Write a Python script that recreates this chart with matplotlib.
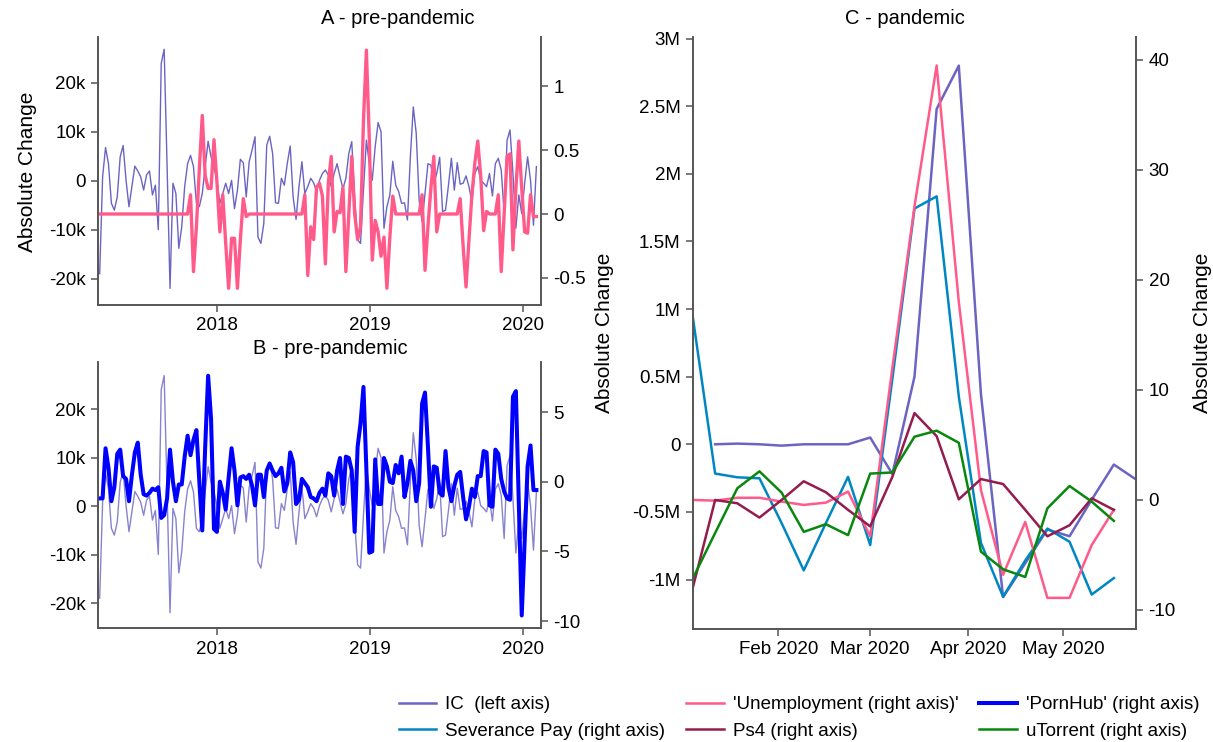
import numpy as np
import pandas as pd
import matplotlib
matplotlib.use("Agg")
import matplotlib.pyplot as plt

plt.rcParams['font.family'] = ['Liberation Sans', 'DejaVu Sans']
plt.rcParams['axes.unicode_minus'] = False

# ---- pre-pandemic weekly data (panels A and B) ----
pre_dates = pd.date_range('2017-03-26', periods=150, freq='7D')

# initial claims, absolute change (thousands)
ic_pre = [-19.0, 0.8, 6.8, 3.5, -4.6, -6.0, -3.3, 4.9, 7.2, 0.1,
          -5.3, -1.2, 3.0, 2.0, 0.8, -1.9, 1.2, 2.0, -2.9, -0.9,
          -10.0, 24.0, 26.9, 3.0, -22.0, -0.5, -2.6, -13.8, -9.4, -1.2,
          3.5, 5.2, 2.9, -4.6, -5.3, -2.6, 2.9, 8.1, 4.9, 2.9,
          0.1, -4.6, -2.6, -0.5, -2.6, 0.1, -5.7, -1.9, 4.4, 3.7,
          -3.3, 3.9, 6.3, 9.0, -11.5, -12.8, -8.7, 7.3, 9.1, 5.6,
          -4.5, -4.6, 0.5, -0.9, 3.5, 7.1, -3.3, -7.9, -1.2, 3.9,
          -2.6, -1.2, 0.5, -0.4, -2.2, 0.1, 1.5, 2.2, 1.2, -1.2,
          1.5, 3.5, 0.8, -1.6, 0.5, 5.6, 8.0, -3.3, -12.1, -12.8,
          -1.9, 8.3, 3.5, 0.1, 7.0, 11.9, 10.0, -9.7, -5.3, -2.9, 4.0,
          -0.9, -2.2, -4.6, -4.5, -8.0, 4.9, 15.1, 9.7, -4.0, -8.4,
          -2.6, 3.5, 3.2, -0.5, 1.5, 4.8, -6.3, -6.0, -0.9, 4.6,
          -1.9, 3.7, -0.7, -0.5, 1.0, -1.2, -4.3, 1.5, 2.9, 0.1,
          -0.5, -1.2, 1.5, -3.1, 3.5, 4.6, 2.2, -6.7, 8.3, 10.4,
          1.5, -9.7, -2.9, -6.7, -0.5, 4.9, 0.1, -9.1, 2.9]

unemp_pre = [0, 0, 0, 0, 0, 0, 0, 0, 0, 0,
             0, 0, 0, 0, 0, 0, 0, 0, 0, 0,
             0, 0, 0, 0, 0, 0, 0, 0, 0, 0,
             0, 0.15, -0.45, -0.1, 0.35, 0.77, 0.3, 0.2, 0.2, 0.58,
             0.25, -0.14, 0.15, -0.23, -0.58, -0.19, -0.19, -0.58, -0.2, 0.12,
             -0.02, 0, 0, 0, 0, 0, 0, 0, 0, 0,
             0, 0, 0, 0, 0, 0, 0, 0, 0, 0,
             0.15, -0.48, -0.1, -0.2, 0.21, 0.24, 0.14, -0.39, 0.24, 0.45,
             -0.14, 0.02, 0.01, 0.21, -0.45, 0, 0.45, 0, -0.2, -0.1,
             0.73, 1.28, 0.58, -0.36, -0.05, -0.14, -0.33, -0.18, -0.58, -0.18,
             0.14, 0, 0, 0, 0, 0, 0, 0, 0, 0,
             0.15, -0.44, -0.1, 0.2, 0.45, -0.14, 0, 0, 0, 0,
             0, 0, 0, 0.12, -0.25, -0.57, -0.2, 0.15, 0.4, 0.57,
             0.3, -0.13, 0.02, 0, 0, 0, 0.15, -0.45, 0, 0.45,
             0.47, -0.28, 0.2, 0.57, 0.2, -0.14, -0.15, 0.15, -0.02, -0.02]

pornhub_pre = [-1.2, -1.2, 2.4, 1.0, -1.4, -0.4, 2.0, 2.3, 0.4, 0.2,
               -1.4, 0.5, 2.1, 2.8, 0.5, -0.9, -1.0, -0.8, -0.5, -0.6,
               -0.4, -2.6, -2.4, -1.2, 2.3, 0.0, -1.4, -0.2, -0.2, 1.8,
               3.3, 1.9, 3.0, 3.7, 0.0, -3.5, 2.5, 7.6, 4.5, -3.4,
               -3.6, 0.0, -0.8, -2.0, 0.3, 2.4, 0.8, -1.7, 0.3, 0.4,
               0.2, 0.5, -0.3, -1.7, 0.5, 0.5, -1.1, 0.8, 1.3, 0.8,
               0.4, 0.6, 1.0, -0.7, -0.1, 2.1, 1.4, -1.6, -1.3, 0.2,
               -0.1, -0.4, -1.1, -1.2, -1.4, -0.8, -0.5, -1.0, 0.6, 0.4,
               -1.0, 0.8, 1.7, -1.6, 1.8, 1.7, 0.8, -3.6, 2.5, 4.2,
               6.8, 0.8, -5.1, -5.0, 1.6, -1.6, -1.6, 1.7, 1.1, 0.0, -0.1,
               1.2, 0.6, 1.8, -1.1, -0.1, 1.5, 0.8, -1.4, -0.1, 5.6,
               6.4, 2.5, -1.8, 1.1, 1.0, -0.8, -1.0, 2.2, -0.4, -1.4,
               -0.3, 0.5, 0.7, -1.1, -2.7, -1.8, -0.5, -1.1, 0.4, 0.4,
               2.2, 2.1, -1.7, -1.8, 2.3, 2.0, 0.2, -0.7, -1.2, -1.3,
               6.1, 6.5, -1.5, -9.6, -4.2, 1.1, 2.6, -0.6, -0.6]

# ---- pandemic weekly data (panel C) ----
covid_dates = pd.date_range('2020-01-05', periods=21, freq='7D')
nan = np.nan
ic_covid = [nan, 0.0, 0.005, 0.0, -0.01, 0.0, 0.0, 0.0, 0.05, -0.22, 0.5,
            2.48, 2.8, 0.37, -1.13, -0.88, -0.63, -0.68, -0.41, -0.15, -0.26]  # millions
severance = [16.5, 2.4, 2.06, 1.97, -2.1, -6.4, -2.1, 2.1, -4.1, 11.0, 26.5,
             27.6, 9.4, -3.9, -8.8, -5.5, -2.6, -3.8, -8.6, -7.1, nan]
unemp_covid = [0.0, -0.06, 0.2, 0.2, -0.15, -0.45, -0.24, 0.76, -3.3, 12.0, 26.7,
               39.5, 18.0, 0.9, -6.8, -2.0, -8.9, -8.9, -4.1, -0.9, nan]
ps4 = [-7.9, 0.0, -0.3, -1.6, 0.0, 1.7, 0.7, -0.9, -2.4, 2.1, 7.9,
       5.8, 0.06, 1.9, 1.45, -0.9, -3.3, -2.3, 0.15, -0.9, nan]
utorrent = [-7.1, -3.0, 1.06, 2.6, 0.67, -2.9, -2.2, -3.2, 2.4, 2.5, 5.75,
            6.3, 5.2, -4.7, -6.3, -7.0, -0.76, 1.27, -0.15, -1.9, nan]

c_ic = '#6b64c2'
c_unemp = '#ff5a8a'
c_ph = '#0000ff'
c_sev = '#0087c2'
c_ps4 = '#951c4e'
c_ut = '#08880e'
spine_c = '#555555'

W, H = 1213, 742
fig = plt.figure(figsize=(W / 100, H / 100), dpi=100)


def box(l, t, r, b):
    return [l / W, 1 - b / H, (r - l) / W, (b - t) / H]


def style(ax, ax2):
    for a in (ax, ax2):
        a.spines['top'].set_visible(False)
        for s in ('left', 'right', 'bottom'):
            a.spines[s].set_color(spine_c)
            a.spines[s].set_linewidth(1.2)
        a.tick_params(direction='out', length=5, width=1.1, color=spine_c,
                      labelsize=13.5, pad=4)
    ax.margins(x=0)


year_ticks = pd.to_datetime(['2018-01-01', '2019-01-01', '2020-01-01'])
year_labels = ['2018', '2019', '2020']
pre_xlim = (pd.Timestamp('2017-03-22'), pd.Timestamp('2020-02-13'))

# ---- panel A ----
ax_a = fig.add_axes(box(98, 37, 541, 305))
ax_a2 = ax_a.twinx()
ax_a.plot(pre_dates, ic_pre, color=c_ic, lw=1.0)
ax_a2.plot(pre_dates, unemp_pre, color=c_unemp, lw=2.4)
ax_a.set_ylim(-25.4, 29.4)
ax_a2.set_ylim(-0.711, 1.383)
ax_a.set_yticks([-20, -10, 0, 10, 20], ['-20k', '-10k', '0', '10k', '20k'])
ax_a2.set_yticks([-0.5, 0, 0.5, 1], ['-0.5', '0', '0.5', '1'])
ax_a.set_xticks(year_ticks, year_labels)
ax_a.set_xlim(*pre_xlim)
style(ax_a, ax_a2)

# ---- panel B ----
ax_b = fig.add_axes(box(98, 362, 541, 628))
ax_b2 = ax_b.twinx()
ax_b.plot(pre_dates, ic_pre, color=c_ic, lw=1.0, alpha=0.8)
ax_b2.plot(pre_dates, pornhub_pre, color=c_ph, lw=2.9)
ax_b.set_ylim(-25.15, 29.7)
ax_b2.set_ylim(-10.5, 8.59)
ax_b.set_yticks([-20, -10, 0, 10, 20], ['-20k', '-10k', '0', '10k', '20k'])
ax_b2.set_yticks([-10, -5, 0, 5], ['-10', '-5', '0', '5'])
ax_b.set_xticks(year_ticks, year_labels)
ax_b.set_xlim(*pre_xlim)
style(ax_b, ax_b2)

# ---- panel C ----
ax_c = fig.add_axes(box(693, 37, 1136, 629))
ax_c2 = ax_c.twinx()
l_ic, = ax_c.plot(covid_dates, ic_covid, color=c_ic, lw=1.8)
l_sev, = ax_c2.plot(covid_dates, severance, color=c_sev, lw=1.8)
l_un, = ax_c2.plot(covid_dates, unemp_covid, color=c_unemp, lw=1.8)
l_ps4, = ax_c2.plot(covid_dates, ps4, color=c_ps4, lw=1.8)
l_ut, = ax_c2.plot(covid_dates, utorrent, color=c_ut, lw=1.8)
ax_c.set_ylim(-1.366, 3.012)
ax_c2.set_ylim(-11.73, 42.09)
ax_c.set_yticks([-1, -0.5, 0, 0.5, 1, 1.5, 2, 2.5, 3],
                ['-1M', '-0.5M', '0', '0.5M', '1M', '1.5M', '2M', '2.5M', '3M'])
ax_c2.set_yticks([-10, 0, 10, 20, 30, 40], ['-10', '0', '10', '20', '30', '40'])
month_ticks = pd.to_datetime(['2020-02-01', '2020-03-01', '2020-04-01', '2020-05-01'])
ax_c.set_xticks(month_ticks, ['Feb 2020', 'Mar 2020', 'Apr 2020', 'May 2020'])
ax_c.set_xlim(pd.Timestamp('2020-01-05'), pd.Timestamp('2020-05-24'))
style(ax_c, ax_c2)

# titles and axis titles
fig.text(398 / W, 1 - 18 / H, 'A - pre-pandemic', ha='center', va='center', fontsize=14.5)
fig.text(330 / W, 1 - 349 / H, 'B - pre-pandemic', ha='center', va='center', fontsize=14.5)
fig.text(905 / W, 1 - 18 / H, 'C - pandemic', ha='center', va='center', fontsize=14.5)
fig.text(28 / W, 1 - 172 / H, 'Absolute Change', rotation=90, ha='center', va='center', fontsize=15)
fig.text(605 / W, 1 - 333 / H, 'Absolute Change', rotation=90, ha='center', va='center', fontsize=15)
fig.text(1203 / W, 1 - 333 / H, 'Absolute Change', rotation=90, ha='center', va='center', fontsize=15)

l_ph = ax_b2.get_lines()[0]
handles = [l_ic, l_sev, l_un, l_ps4, l_ph, l_ut]
labels = ["IC  (left axis)", "Severance Pay (right axis)",
          "'Unemployment (right axis)'", "Ps4 (right axis)",
          "'PornHub' (right axis)", "uTorrent (right axis)"]
fig.legend(handles, labels, ncol=3, loc='center', bbox_to_anchor=(799 / W, 1 - 718 / H),
           frameon=False, fontsize=13.5, handlelength=2.0, handletextpad=0.5,
           columnspacing=1.1, labelspacing=0.5, borderpad=0)

fig.savefig('out.png', dpi=100)
